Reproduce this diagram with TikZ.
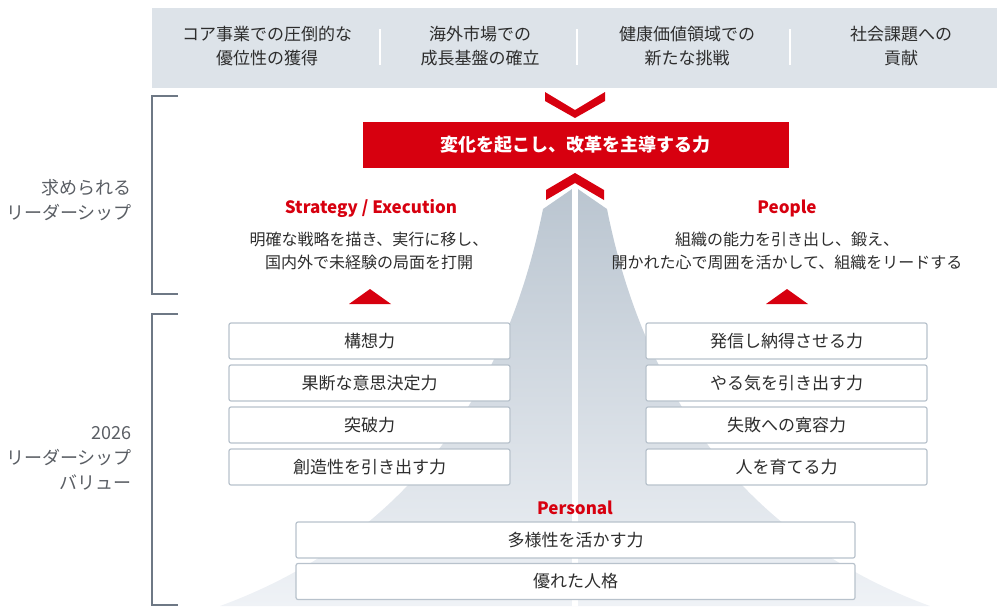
\documentclass[tikz,border=0pt]{standalone}
\usepackage{fontspec}
\setmainfont{Noto Sans CJK JP}
\definecolor{kred}{RGB}{215,0,15}
\definecolor{kband}{RGB}{221,227,233}
\definecolor{ktext}{RGB}{45,45,45}
\definecolor{klabel}{RGB}{90,94,100}
\definecolor{kline}{RGB}{110,120,133}
\definecolor{kbox}{RGB}{184,194,204}
\definecolor{kmtop}{RGB}{186,197,208}
\definecolor{kmmid}{RGB}{224,229,235}
\definecolor{kmbot}{RGB}{239,242,246}

\begin{document}
\begin{tikzpicture}[x=1pt,y=-1pt,
    txt/.style={text=ktext,font=\fontsize{16}{23}\selectfont,align=center,inner sep=0pt},
    bandtxt/.style={txt,font=\fontsize{17}{24.5}\selectfont},
    sidelabel/.style={text=klabel,font=\fontsize{18}{25}\selectfont,align=right,anchor=east,inner sep=0pt},
    head/.style={text=kred,font=\fontsize{17}{20}\selectfont\bfseries,inner sep=0pt},
    valbox/.style={draw=kbox,line width=1.2pt,fill=white,rounded corners=2pt,
        minimum width=281pt,minimum height=36pt,text=ktext,font=\fontsize{17}{20}\selectfont}]
    \useasboundingbox (0,0) rectangle (997,606);
    % top band
    \fill [kband] (152,8) rectangle (997,88);
    \foreach \x in {380,577,790}
        \draw [white,line width=1.5pt] (\x,29) -- (\x,65);
    \node [bandtxt] (g1) at (267,46) {コア事業での圧倒的な\\優位性の獲得};
    \node [bandtxt] (g2) at (480,46) {海外市場での\\成長基盤の確立};
    \node [bandtxt] (g3) at (687,46) {健康価値領域での\\新たな挑戦};
    \node [bandtxt] (g4) at (901,46) {社会課題への\\貢献};
    % brackets
    \begin{scope}[kline,line width=1.3pt]
    \draw (178,96) -- (152,96) -- (152,294) -- (178,294);
    \draw (178,314) -- (152,314) -- (152,605) -- (178,605);
    \end{scope}
    \node [sidelabel] (l1) at (132,200) {求められる\\リーダーシップ};
    \node [sidelabel] (l2) at (132,458) {2026\\リーダーシップ\\バリュー};
    % mountain
    \shade [top color=kmtop,middle color=kmmid,bottom color=kmbot]
        (575,187) -- (543,209) .. controls (505,400) and (400,540) .. (220,606)
        -- (930,606) .. controls (750,540) and (645,400) .. (607,209) -- cycle;
    \draw [white,line width=6pt] (575,187) -- (575,606);
    % chevrons
    \fill [kred] (545,92) -- (575,110) -- (605,92) -- (605,101) -- (575,118) -- (545,101) -- cycle;
    \fill [kred] (546,190) -- (575,173) -- (604,190) -- (604,200) -- (575,183) -- (546,200) -- cycle;
    \node [fill=kred,text=white,minimum width=426pt,minimum height=46pt,
        font=\fontsize{18}{20}\selectfont\bfseries] (goal) at (575.5,145) {変化を起こし、改革を主導する力};
    % two pillars
    \node [head] (se) at (371,208) {Strategy / Execution};
    \node [txt] (sed) at (369,251) {明確な戦略を描き、実行に移し、\\国内外で未経験の局面を打開};
    \node [head] (pp) at (787,208) {People};
    \node [txt] (ppd) at (787,251) {組織の能力を引き出し、鍛え、\\開かれた心で周囲を活かして、組織をリードする};
    \fill [kred] (349,304) -- (370,289) -- (391,304) -- cycle;
    \fill [kred] (766,304) -- (787,289) -- (808,304) -- cycle;
    \foreach \t [count=\i] in {構想力,果断な意思決定力,突破力,創造性を引き出す力}
        \node [valbox] (s\i) at (369.5,{299+42*\i}) {\t};
    \foreach \t [count=\i] in {発信し納得させる力,やる気を引き出す力,失敗への寛容力,人を育てる力}
        \node [valbox] (p\i) at (786.5,{299+42*\i}) {\t};
    % personal
    \node [head] (pe) at (575,508) {Personal};
    \node [valbox,minimum width=559pt] (pe1) at (575.5,540) {多様性を活かす力};
    \node [valbox,minimum width=559pt] (pe2) at (575.5,581.5) {優れた人格};
\end{tikzpicture}
\end{document}
